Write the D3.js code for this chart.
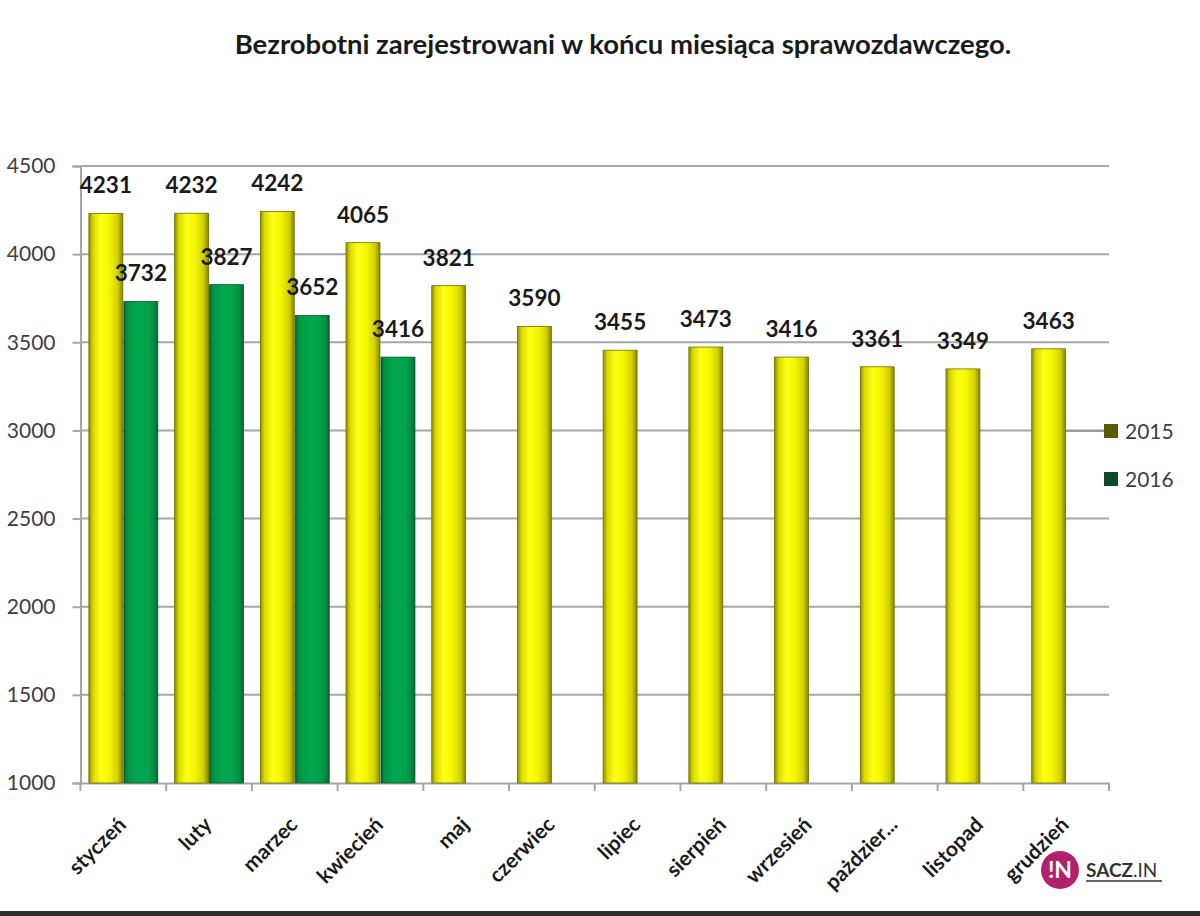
<!DOCTYPE html>
<html>
<head>
<meta charset="utf-8">
<script src="https://cdn.jsdelivr.net/npm/d3@7"></script>
<style>
  html, body { margin: 0; padding: 0; background: #fff; }
  svg { display: block; }
</style>
</head>
<body>
<svg id="chart" width="1200" height="916"></svg>
<script>
const months = ["styczeń","luty","marzec","kwiecień","maj","czerwiec","lipiec","sierpień","wrzesień","pażdzier...","listopad","grudzień"];
const years = ["2015","2016"];
const values2015 = [4231,4232,4242,4065,3821,3590,3455,3473,3416,3361,3349,3463];
const values2016 = [3732,3827,3652,3416,null,null,null,null,null,null,null,null];
const yTicks = [1000,1500,2000,2500,3000,3500,4000,4500];
const titleText = "Bezrobotni zarejestrowani w końcu miesiąca sprawozdawczego.";

(function () {
const svg = d3.select("#chart");
const font = "Lato, 'Open Sans', sans-serif";
const pLeft = 80.5, pRight = 1109, pTop = 166, pBottom = 783;

const x = d3.scaleBand().domain(months).range([pLeft, pRight]).padding(0);
const x1 = d3.scaleBand().domain(years).range([0, x.bandwidth()]).paddingInner(0.03).paddingOuter(0.24);
const y = d3.scaleLinear().domain([1000, 4500]).range([pBottom, pTop]);

// gradients
const defs = svg.append("defs");
const gy = defs.append("linearGradient").attr("id", "gYellow").attr("x1", "0").attr("x2", "1").attr("y1", "0").attr("y2", "0");
[[0,"#8c8c00"],[0.12,"#d9d900"],[0.35,"#ffff14"],[0.6,"#f6f600"],[0.85,"#d0d000"],[1,"#838300"]]
  .forEach(([o,c]) => gy.append("stop").attr("offset", o).attr("stop-color", c));
const gg = defs.append("linearGradient").attr("id", "gGreen").attr("x1", "0").attr("x2", "1").attr("y1", "0").attr("y2", "0");
[[0,"#0a5e30"],[0.1,"#009442"],[0.4,"#00a84f"],[0.7,"#00a24c"],[0.9,"#008c40"],[1,"#0a5e30"]]
  .forEach(([o,c]) => gg.append("stop").attr("offset", o).attr("stop-color", c));

// title
svg.append("text").attr("x", 623).attr("y", 54).attr("text-anchor", "middle")
  .style("font-family", font).style("font-weight", "bold").style("font-size", "27.5px").attr("fill", "#1a1a1a")
  .text(titleText);

// gridlines
svg.append("g").selectAll("line").data(yTicks.filter(d => d > 1000)).join("line")
  .attr("x1", pLeft).attr("x2", pRight).attr("y1", d => y(d)).attr("y2", d => y(d))
  .attr("stroke", "#a6a6a6").attr("stroke-width", 2);

// y axis
const yAxis = svg.append("g").attr("transform", `translate(${pLeft},0)`)
  .call(d3.axisLeft(y).tickValues(yTicks).tickSize(8).tickPadding(17).tickFormat(d3.format("d")));
yAxis.select(".domain").attr("stroke", "#a6a6a6").attr("stroke-width", 2);
yAxis.selectAll(".tick line").attr("stroke", "#a6a6a6").attr("stroke-width", 2);
yAxis.selectAll(".tick text").style("font-family", font).style("font-size", "21px").attr("fill", "#404040");

// x axis
const xAxis = svg.append("g").attr("transform", `translate(0,${pBottom})`)
  .call(d3.axisBottom(x).tickSize(0).tickFormat(""));
xAxis.select(".domain").attr("stroke", "#a6a6a6").attr("stroke-width", 2);
const tickPos = months.map(m => x(m)).concat([x.range()[1]]);
svg.append("g").selectAll("line").data(tickPos).join("line")
  .attr("x1", d => d).attr("x2", d => d).attr("y1", pBottom).attr("y2", pBottom + 8)
  .attr("stroke", "#a6a6a6").attr("stroke-width", 2);

// x labels
svg.append("g").selectAll("text").data(months).join("text")
  .attr("transform", d => `translate(${x(d) + x.bandwidth()/2 + 4},${826}) rotate(-45)`)
  .attr("text-anchor", "end")
  .style("font-family", font).style("font-weight", "bold").style("font-size", "21px").attr("fill", "#1a1a1a")
  .text(d => d);

// bars
const rows = months.map((m, i) => ({m, v15: values2015[i], v16: values2016[i]}));
const bars = svg.append("g");
bars.selectAll("rect.y15").data(rows).join("rect").attr("class", "y15")
  .attr("x", d => x(d.m) + x1("2015")).attr("width", x1.bandwidth())
  .attr("y", d => y(d.v15)).attr("height", d => y(1000) - y(d.v15))
  .attr("fill", "url(#gYellow)").attr("stroke", "#6f6f00").attr("stroke-width", 0.8);
bars.selectAll("rect.y16").data(rows.filter(d => d.v16 != null)).join("rect").attr("class", "y16")
  .attr("x", d => x(d.m) + x1("2016")).attr("width", x1.bandwidth())
  .attr("y", d => y(d.v16)).attr("height", d => y(1000) - y(d.v16))
  .attr("fill", "url(#gGreen)").attr("stroke", "#0a5a2e").attr("stroke-width", 0.8);

// value labels
const lab = svg.append("g").style("font-family", font).style("font-weight", "bold").style("font-size", "22.5px").attr("fill", "#1a1a1a");
lab.selectAll("text.l15").data(rows).join("text").attr("class", "l15")
  .attr("x", d => x(d.m) + x1("2015") + x1.bandwidth()/2).attr("y", d => y(d.v15) - 20)
  .attr("text-anchor", "middle").text(d => d.v15);
lab.selectAll("text.l16").data(rows.filter(d => d.v16 != null)).join("text").attr("class", "l16")
  .attr("x", d => x(d.m) + x1("2016") + x1.bandwidth()/2).attr("y", d => y(d.v16) - 20)
  .attr("text-anchor", "middle").text(d => d.v16);

// legend
const lastBarRight = x(months[11]) + x1("2015") + x1.bandwidth();
svg.append("line").attr("x1", lastBarRight).attr("x2", 1104).attr("y1", 431).attr("y2", 431)
  .attr("stroke", "#8c8c8c").attr("stroke-width", 1.5);
const legColors = {"2015": "#5a5a00", "2016": "#0b4a28"};
const leg = svg.append("g");
years.forEach((yr, i) => {
  const cy = 431 + i * 48;
  leg.append("rect").attr("x", 1104).attr("y", cy - 7).attr("width", 14).attr("height", 14).attr("fill", legColors[yr]);
  leg.append("text").attr("x", 1125).attr("y", cy + 7.5).style("font-family", font).style("font-size", "21px")
    .attr("fill", "#404040").text(yr);
});

// watermark logo
const logo = svg.append("g");
logo.append("circle").attr("cx", 1060).attr("cy", 870).attr("r", 19).attr("fill", "#b3206d");
logo.append("text").attr("x", 1060).attr("y", 878).attr("text-anchor", "middle").style("font-family", font)
  .style("font-weight", "bold").style("font-size", "23px").attr("fill", "#fff").text("!N");
const brand = logo.append("text").attr("x", 1086).attr("y", 877).style("font-family", font).style("font-size", "19px").attr("fill", "#333");
brand.append("tspan").style("font-weight", "bold").text("SACZ");
brand.append("tspan").text(".IN");
logo.append("line").attr("x1", 1086).attr("x2", 1162).attr("y1", 881).attr("y2", 881).attr("stroke", "#333").attr("stroke-width", 1.5);

// bottom dark strip
svg.append("rect").attr("x", 0).attr("y", 911).attr("width", 1200).attr("height", 5).attr("fill", "#2e2e2e");
})();
</script>
</body>
</html>
